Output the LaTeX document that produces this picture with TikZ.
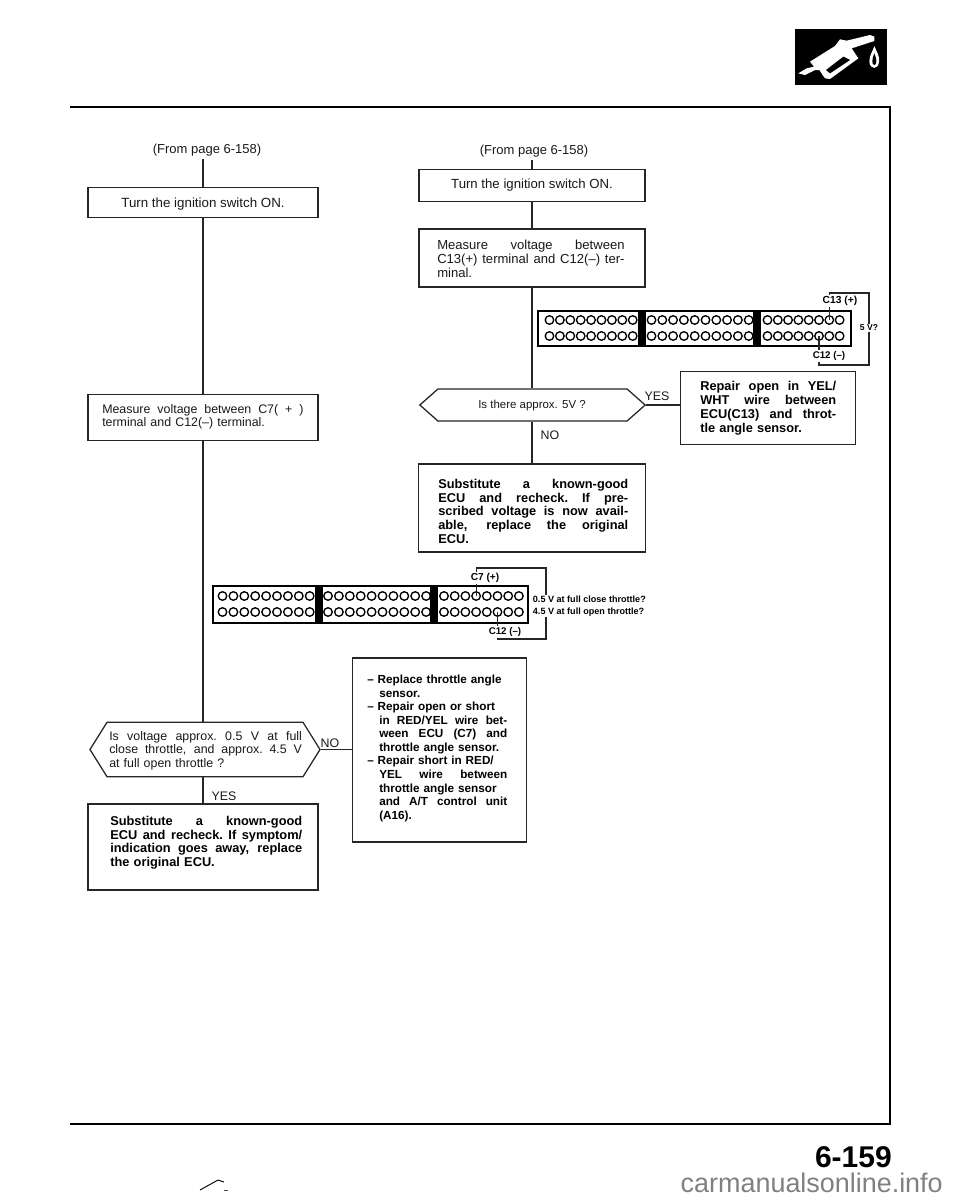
\documentclass[tikz,border=0pt]{standalone}
\usepackage{fontspec}
\setmainfont{Liberation Sans}
\usetikzlibrary{shapes.symbols,calc}
\newcommand{\jline}[1]{\makebox[\hsize][s]{\spaceskip=.3em plus 1fil\xspaceskip=.3em plus 1fil #1}}
\newcommand{\jw}[2]{\makebox[#1][s]{\spaceskip=.3em plus 1fil\xspaceskip=.3em plus 1fil #2}}
\tikzset{
  box/.style={draw=black!85,line width=0.95pt,rectangle,inner sep=0,fill=white},
  wire/.style={draw=black!85,line width=0.95pt},
  hexa/.style={draw=black!85,line width=0.95pt,signal,signal to=east and west,inner sep=0,fill=white},
  reg/.style={inner sep=0,anchor=north west,align=left,font=\fontsize{9.3}{10.3}\selectfont,text=black!90},
  bld/.style={inner sep=0,anchor=north west,align=left,font=\fontsize{9.6}{10.25}\selectfont\bfseries,text=black},
  lab/.style={inner sep=0,font=\fontsize{9.3}{10.1}\selectfont,text=black!90},
  tiny/.style={inner sep=1pt,fill=white,font=\fontsize{7.3}{8}\selectfont\bfseries,text=black},
  pin/.style={circle,draw=black,line width=1pt,inner sep=0,minimum size=6.4pt},
  conn/.style={draw=black,line width=1.6pt,rectangle,inner sep=0},
  sep/.style={fill=black,rectangle,inner sep=0,minimum width=6pt},
}
\begin{document}
\begin{tikzpicture}[x=0.75pt,y=-0.75pt]
\useasboundingbox (0,0) rectangle (960,1200);

% frame
\coordinate (ruleTL) at (70,107);
\coordinate (ruleTR) at (890,107);
\coordinate (ruleBR) at (890,1124);
\coordinate (ruleBL) at (70,1124);
\draw[black,line width=1.2pt] (ruleTL) -- (ruleTR) -- (ruleBR) -- (ruleBL);

% fuel logo
\fill[black] (795,29) rectangle (887,85);
\begin{scope}[shift={(780,10)},x=0.25pt,y=-0.25pt]
\fill[white] (55,190) -- (80,175) -- (102,170) -- (90,155) -- (165,108) -- (180,88) -- (200,92) -- (270,75) -- (283,80) -- (283,93) -- (215,115) -- (235,145) -- (150,207) -- (135,205) -- (118,180) -- (105,180) -- (75,195) -- cycle;
\fill[black] (138,180) -- (190,140) -- (210,150) -- (150,190) -- cycle;
\fill[white] (283,108) .. controls (290,125) and (300,140) .. (297,155) .. controls (295,180) and (270,180) .. (268,155) .. controls (268,135) and (278,125) .. (283,108) -- cycle;
\fill[black] (283,130) .. controls (290,145) and (292,165) .. (283,165) .. controls (274,165) and (276,145) .. (283,130) -- cycle;
\end{scope}

% left column
\node[lab,font=\fontsize{9.75}{11}\selectfont] (fromL) at (207,150) {(From page 6-158)};
\coordinate (fromLend) at (203,159);
\node[box,minimum width=172.5pt,minimum height=23pt] (L1) at (203,202.5) {};
\node[lab,font=\fontsize{10}{11}\selectfont] (L1t) at (203,204) {Turn the ignition switch ON.};
\node[box,minimum width=172.5pt,minimum height=34pt] (L2) at (203,417.5) {};
\node[reg,text width=151pt] (L2t) at (102,404) {\jline{Measure voltage between C7( + )}\\terminal and C12(–) terminal.};
\node[hexa,minimum width=172.5pt,minimum height=41pt,signal pointer angle=116] (L3) at (205,749.5) {};
\node[reg,text width=144.5pt] (L3t) at (109,731) {\jline{Is voltage approx. 0.5 V at full}\\\jline{close throttle, and approx. 4.5 V}\\at full open throttle ?};
\node[box,minimum width=172.5pt,minimum height=64.5pt] (L4) at (203,847) {};
\node[bld,text width=144pt] (L4t) at (110,816) {\jline{Substitute a known-good}\\\jline{ECU and recheck. If symptom/}\\\jline{indication goes away, replace}\\the original ECU.};
\node[box,minimum width=131pt,minimum height=138pt] (R5) at (439.5,750) {};
\node[bld,text width=105pt,font=\fontsize{8.8}{10.15}\selectfont\bfseries] (R5t) at (367,675) {– Replace throttle angle\\\hspace*{9pt}sensor.\\– Repair open or short\\\hspace*{9pt}\jw{96pt}{in RED/YEL wire bet-}\\\hspace*{9pt}\jw{96pt}{ween ECU (C7) and}\\\hspace*{9pt}throttle angle sensor.\\– Repair short in RED/\\\hspace*{9pt}\jw{96pt}{YEL wire between}\\\hspace*{9pt}throttle angle sensor\\\hspace*{9pt}\jw{96pt}{and A/T control unit}\\\hspace*{9pt}(A16).};
\node[lab] (yesL) at (224,796) {YES};
\node[lab] (noL) at (330,743) {NO};

% right column
\node[lab,font=\fontsize{9.75}{11}\selectfont,inner ysep=2pt] (fromR) at (534,151) {(From page 6-158)};
\node[box,minimum width=169.5pt,minimum height=23.5pt] (R1) at (532,185.5) {};
\node[lab,font=\fontsize{9.9}{11}\selectfont] (R1t) at (532,185) {Turn the ignition switch ON.};
\node[box,minimum width=169.5pt,minimum height=43.5pt] (R2) at (532,258) {};
\node[reg,text width=140.5pt,font=\fontsize{9.8}{10.5}\selectfont] (R2t) at (437,240) {\jline{Measure voltage between}\\\jline{C13(+) terminal and C12(–) ter-}\\minal.};
\node[hexa,minimum width=169pt,minimum height=24pt,signal pointer angle=83] (R3) at (532.5,405) {};
\node[lab,font=\fontsize{8.6}{10}\selectfont] (R3t) at (532,406) {Is there approx. 5V ?};
\node[box,minimum width=170pt,minimum height=66pt] (R4) at (532,508) {};
\node[bld,text width=142.5pt] (R4t) at (438,479) {\jline{Substitute a known-good}\\\jline{ECU and recheck. If pre-}\\\jline{scribed voltage is now avail-}\\\jline{able, replace the original}\\ECU.};
\node[box,minimum width=131pt,minimum height=55pt] (R6) at (768,408) {};
\node[bld,text width=102pt,font=\fontsize{9.6}{10.4}\selectfont\bfseries] (R6t) at (700,381) {\jline{Repair open in YEL/}\\\jline{WHT wire between}\\\jline{ECU(C13) and throt-}\\tle angle sensor.};
\node[lab] (yesR) at (657,396) {YES};
\node[lab] (noR) at (550,435) {NO};

% flow connectors
\draw[wire] (fromLend) -- (L1.north);
\draw[wire] (L1.south) -- (L2.north);
\draw[wire] (L2.south) -- (L2.south |- L3.north);
\draw[wire] (L2.south |- L3.south) -- (L4.north);
\draw[wire] (L3.east) -- (L3.east -| R5.west);
\draw[wire] (R1.north |- fromR.south) -- (R1.north);
\draw[wire] (R1.south) -- (R2.north);
\draw[wire] (R2.south) -- (R2.south |- R3.north);
\draw[wire] (R2.south |- R3.south) -- (R4.north);
\draw[wire] (R3.east) -- (R3.east -| R6.west);

% upper ECU connector
\node[conn,minimum width=234.75pt,minimum height=26pt] (ecuA) at (694.5,328.5) {};
\node[sep,minimum height=26pt] (ecuAs1) at (642,328.5) {};
\node[sep,minimum height=26pt] (ecuAs2) at (756.5,328.5) {};
\foreach \r/\yy in {1/320,2/336}{
  \foreach \i in {1,...,9}{\pgfmathsetmacro\xx{549.5+(\i-1)*10.4}\node[pin] (a1r\r p\i) at (\xx,\yy) {};}
  \foreach \i in {1,...,10}{\pgfmathsetmacro\xx{651.5+(\i-1)*10.8}\node[pin] (a2r\r p\i) at (\xx,\yy) {};}
  \foreach \i in {1,...,8}{\pgfmathsetmacro\xx{767.5+(\i-1)*10.3}\node[pin] (a3r\r p\i) at (\xx,\yy) {};}
}
\coordinate (aT) at (869,293);
\coordinate (aB) at (869,365);
\draw[wire,line width=0.8pt] (a3r1p7.center) |- (aT) -- (aB) -| (a3r2p6.center);
\node[tiny,font=\fontsize{7.7}{8}\selectfont\bfseries] (c13) at (840,301) {C13 (+)};
\node[tiny] (c12a) at (829,356) {C12 (–)};
\node[tiny,font=\fontsize{6.4}{7}\selectfont\bfseries] (fiveV) at (869,328) {5 V?};

% lower ECU connector
\node[conn,minimum width=236pt,minimum height=28pt] (ecuB) at (370.5,604.5) {};
\node[sep,minimum height=28pt] (ecuBs1) at (319,604.5) {};
\node[sep,minimum height=28pt] (ecuBs2) at (434,604.5) {};
\foreach \r/\yy in {1/596,2/612}{
  \foreach \i in {1,...,9}{\pgfmathsetmacro\xx{222.5+(\i-1)*10.9}\node[pin] (b1r\r p\i) at (\xx,\yy) {};}
  \foreach \i in {1,...,10}{\pgfmathsetmacro\xx{328+(\i-1)*10.9}\node[pin] (b2r\r p\i) at (\xx,\yy) {};}
  \foreach \i in {1,...,8}{\pgfmathsetmacro\xx{444+(\i-1)*10.7}\node[pin] (b3r\r p\i) at (\xx,\yy) {};}
}
\coordinate (bT) at (546,568);
\coordinate (bB) at (546,639);
\draw[wire,line width=0.8pt] (b3r1p4.center) |- (bT) -- (bB) -| (b3r2p6.center);
\node[tiny,font=\fontsize{7.6}{8}\selectfont\bfseries] (c7) at (485,578) {C7 (+)};
\node[tiny] (c12b) at (505,632) {C12 (–)};
\node[tiny,anchor=west,inner sep=0.5pt,align=left,font=\fontsize{6.8}{9}\selectfont\bfseries] (thr) at (532,606) {0.5 V at full close throttle?\\4.5 V at full open throttle?};

% page number and source line
\node[inner sep=0,anchor=east,font=\fontsize{22.5}{24}\selectfont\bfseries] (pageno) at (892,1157) {6-159};
\node[inner sep=0,anchor=east,text=black!50,font=\fontsize{20.2}{22}\selectfont] (site) at (943,1183) {carmanualsonline.info};
\coordinate (m1) at (200,1190);
\coordinate (m2) at (218,1180);
\coordinate (m3) at (224,1182);
\coordinate (m4) at (224,1190);
\coordinate (m5) at (228,1190);
\draw[black,line width=0.7pt] (m1) -- (m2) -- (m3);
\draw[black!70,line width=0.7pt] (m4) -- (m5);
\end{tikzpicture}
\end{document}
